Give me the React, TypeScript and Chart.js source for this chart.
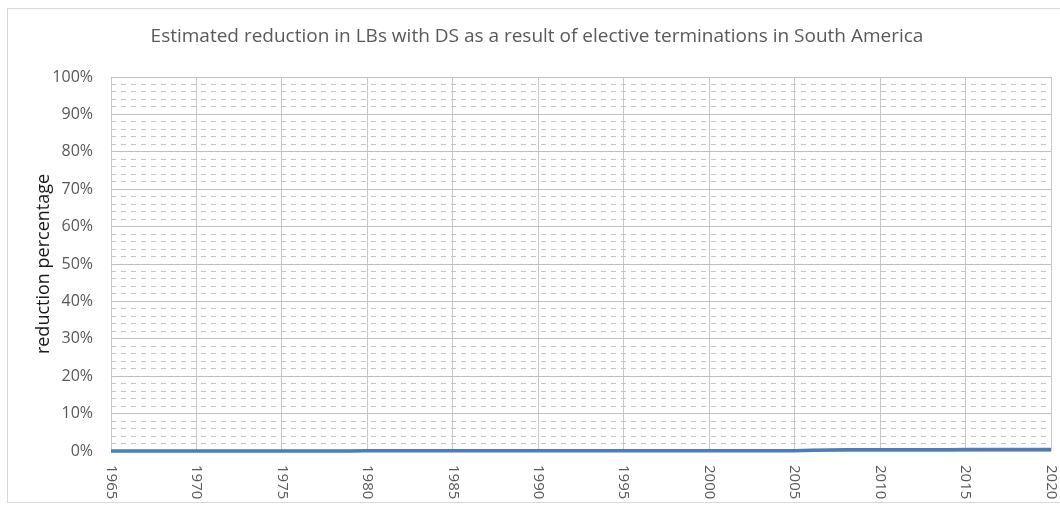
import React, { useEffect, useRef } from 'react';
import { Chart, registerables } from 'chart.js';

Chart.register(...registerables);

const TITLE = 'Estimated reduction in LBs with DS as a result of elective terminations in South America';
const Y_TITLE = 'reduction percentage';

const years = [
  1965, 1966, 1967, 1968, 1969, 1970, 1971, 1972, 1973, 1974,
  1975, 1976, 1977, 1978, 1979, 1980, 1981, 1982, 1983, 1984,
  1985, 1986, 1987, 1988, 1989, 1990, 1991, 1992, 1993, 1994,
  1995, 1996, 1997, 1998, 1999, 2000, 2001, 2002, 2003, 2004,
  2005, 2006, 2007, 2008, 2009, 2010, 2011, 2012, 2013, 2014,
  2015, 2016, 2017, 2018, 2019, 2020,
];

// reduction percentage (%): essentially 0, slightly above from ~2007
const reduction = [
  0, 0, 0, 0, 0, 0, 0, 0, 0, 0,
  0, 0, 0, 0, 0, 0.05, 0.05, 0.05, 0.05, 0.05,
  0.05, 0.05, 0.05, 0.05, 0.05, 0.05, 0.05, 0.05, 0.05, 0.05,
  0.05, 0.05, 0.05, 0.05, 0.05, 0.1, 0.1, 0.1, 0.1, 0.1,
  0.1, 0.2, 0.3, 0.35, 0.35, 0.35, 0.35, 0.35, 0.35, 0.35,
  0.4, 0.4, 0.4, 0.4, 0.4, 0.4,
];

const X_MIN = 1965;
const X_MAX = 2020;
const X_STEP = 5;
const Y_MIN = 0;
const Y_MAX = 100;
const Y_MAJOR = 10;
const Y_MINOR = 2;

const FONT = '"Open Sans", "Liberation Sans", sans-serif';

const framePlugin = {
  id: 'frameTitleXLabels',
  beforeDraw(chart: any) {
    const { ctx, width, height } = chart;
    ctx.save();
    ctx.fillStyle = '#ffffff';
    ctx.fillRect(0, 0, width, height);
    ctx.strokeStyle = '#d9d9d9';
    ctx.lineWidth = 1;
    ctx.strokeRect(7.5, 8.5, width + 10, height - 12);
    // chart title
    ctx.font = `19px ${FONT}`;
    ctx.fillStyle = '#595959';
    ctx.textAlign = 'center';
    ctx.textBaseline = 'middle';
    ctx.fillText(TITLE, 537, 37);
    ctx.restore();
  },
  afterDraw(chart: any) {
    const { ctx } = chart;
    const xs = chart.scales.x;
    ctx.save();
    ctx.font = `15px ${FONT}`;
    ctx.fillStyle = '#595959';
    ctx.textAlign = 'left';
    ctx.textBaseline = 'middle';
    xs.ticks.forEach((t: any) => {
      const px = xs.getPixelForValue(t.value);
      ctx.save();
      ctx.translate(px, xs.top + 14);
      ctx.rotate(Math.PI / 2);
      ctx.fillText(String(t.value), 0, 0);
      ctx.restore();
    });
    ctx.restore();
  },
};

export default function App() {
  const ref = useRef<HTMLCanvasElement | null>(null);

  useEffect(() => {
    document.body.style.margin = '0';
    if (!ref.current) return;
    const chart = new Chart(ref.current, {
      type: 'line',
      data: {
        datasets: [
          {
            label: 'reduction',
            data: years.map((y, i) => ({ x: y, y: reduction[i] })),
            borderColor: '#4a7ebb',
            backgroundColor: '#4a7ebb',
            borderWidth: 3.5,
            pointRadius: 0,
            tension: 0,
            clip: false,
          },
        ],
      },
      options: {
        animation: false,
        responsive: false,
        layout: { padding: { left: 0, right: 9, top: 77, bottom: 0 } },
        plugins: {
          legend: { display: false },
          tooltip: { enabled: false },
          title: { display: false },
        },
        scales: {
          x: {
            type: 'linear',
            min: X_MIN,
            max: X_MAX,
            ticks: { stepSize: X_STEP, display: false },
            grid: { color: '#c8c8c8', drawTicks: false, lineWidth: 1 },
            border: { display: false },
            afterFit: (s: any) => {
              s.height = 55;
            },
          },
          y: {
            type: 'linear',
            min: Y_MIN,
            max: Y_MAX,
            ticks: {
              stepSize: Y_MINOR,
              autoSkip: false,
              color: '#595959',
              font: { family: FONT, size: 16 },
              padding: 18,
              callback: (v: any) => (Number(v) % Y_MAJOR === 0 ? `${v}%` : ''),
            },
            grid: {
              drawTicks: false,
              lineWidth: 1,
              color: (c: any) =>
                c.tick && Math.round(c.tick.value) % Y_MAJOR === 0 ? '#bfbfbf' : '#c4c4c4',
            },
            border: {
              display: false,
              dash: (c: any) =>
                c.tick && Math.round(c.tick.value) % Y_MAJOR !== 0 ? [5, 5] : [],
            },
            title: {
              display: true,
              text: Y_TITLE,
              color: '#1a1a1a',
              font: { family: FONT, size: 18 },
              padding: { top: 33, bottom: 0 },
            },
            afterFit: (s: any) => {
              s.width = 111;
            },
          },
        },
      },
      plugins: [framePlugin],
    } as any);
    return () => chart.destroy();
  }, []);

  return (
    <div style={{ width: 1060, height: 506 }}>
      <canvas ref={ref} width={1060} height={506} style={{ display: 'block' }} />
    </div>
  );
}
